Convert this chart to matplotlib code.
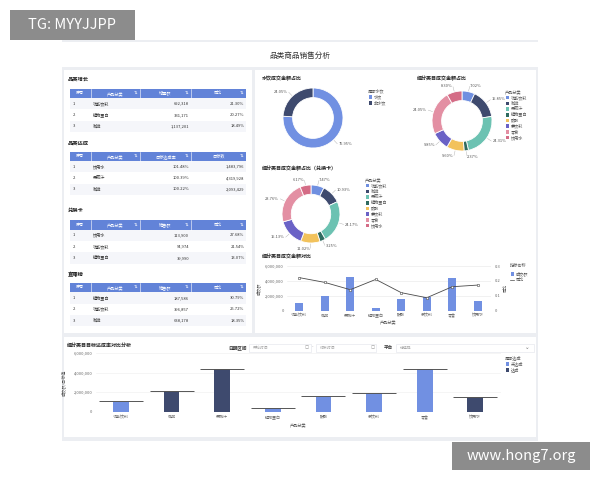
import numpy as np
import matplotlib
matplotlib.use("Agg")
import matplotlib.pyplot as plt
from matplotlib.patches import Rectangle

plt.rcParams['font.family'] = ['Noto Sans CJK SC', 'DejaVu Sans']

# ---------------- data ----------------
categories = ['功能饮料', '咖啡', '果蔬汁', '植物蛋白', '碳酸', '茶饮料', '零食', '饮用水']
cat_colors = ['#6f8fe0', '#3e4a6e', '#6cc2b2', '#2f6b60', '#f2c25c', '#6a62c6', '#e38fa3', '#d46c86']

water_labels = ['水饮', '非水饮']
water_share = [75.95, 24.05]
water_colors = ['#7190e2', '#3e4a6e']

share_all = [7.02, 15.85, 24.31, 2.37, 9.60, 9.85, 24.05, 8.30]
share_card = [7.47, 10.93, 24.17, 3.25, 11.02, 15.13, 23.76, 6.17]

sales = [1000000, 1950000, 4550000, 350000, 1550000, 1900000, 4450000, 1250000]
sales_yoy = [0.222, 0.190, 0.141, 0.210, 0.121, 0.087, 0.161, 0.172]

actual = [1020000, 2098034, 4336775, 350000, 1540000, 1910000, 4340000, 1505756]
target = [1090000, 2093429, 4319928, 410000, 1580000, 1960000, 4370000, 1483796]

growth_cats = ['功能饮料', '植物蛋白', '咖啡']
growth_inc = [692318, 331171, 1137201]
growth_yoy = [21.30, 20.27, 18.49]

achieve_cats = ['饮用水', '果蔬汁', '咖啡']
achieve_rate = [101.48, 100.39, 100.22]
achieve_target = [1483796, 4319928, 2093429]

card_cats = ['饮用水', '功能饮料', '植物蛋白']
card_sales = [113900, 94974, 39990]
card_yoy = [27.68, 21.54, 13.07]

live_cats = ['植物蛋白', '功能饮料', '咖啡']
live_sales = [187586, 396857, 638178]
live_yoy = [30.79, 25.72, 18.35]

W, H = 600, 480
fig = plt.figure(figsize=(6, 4.8), dpi=100)
fig.patch.set_facecolor('white')

bg = fig.add_axes([0, 0, 1, 1])
bg.set_xlim(0, W)
bg.set_ylim(H, 0)
bg.axis('off')


def px_axes(x, y, w, h):
    return fig.add_axes([x / W, 1 - (y + h) / H, w / W, h / H])


def rect(x, y, w, h, fc, ec='none', lw=0.5, z=0):
    bg.add_patch(Rectangle((x, y), w, h, facecolor=fc, edgecolor=ec, linewidth=lw, zorder=z))


# panel + cards
rect(62, 40, 476, 401, '#eceef2')
rect(62, 42, 476, 25, 'white')
rect(64, 70, 188, 263, 'white')
rect(255, 70, 281, 263, 'white')
rect(64, 337, 472, 100, 'white')
bg.text(300, 56, '品类商品销售分析', fontsize=5.5, ha='center', va='center', color='#333333')

# watermarks
rect(10, 10, 125, 30, '#8c8c8c', z=5)
bg.text(72, 25, 'TG: MYYJJPP', fontsize=10.5, color='white', ha='center', va='center', zorder=6)
rect(452, 442, 138, 28, '#8c8c8c', z=5)
bg.text(521, 456, 'www.hong7.org', fontsize=10.5, color='white', ha='center', va='center', zorder=6)

# ---------------- tables ----------------
col_x = [70, 90.7, 140, 190.7, 245.7]


def draw_table(title, ty, hy, headers, cats, v1, v2):
    bg.text(68, ty, title, fontsize=3.8, weight='bold', va='center', color='#222222')
    rect(col_x[0], hy, col_x[-1] - col_x[0], 9.6, '#6283d8')
    for i in range(1, 4):
        bg.plot([col_x[i], col_x[i]], [hy, hy + 9.6], color='white', lw=0.4)
    for i, h in enumerate(headers):
        cx = (col_x[i] + col_x[i + 1]) / 2
        bg.text(cx, hy + 4.8, h, fontsize=3.0, color='white', ha='center', va='center')
        if i > 0:
            bg.text(col_x[i + 1] - 4, hy + 4.8, '⇅', fontsize=3.2, color='white',
                    ha='center', va='center', family='DejaVu Sans')
    for r in range(3):
        cy = hy + 9.6 + 5.7 + r * 11.3
        rect(col_x[0], cy - 5.65, col_x[-1] - col_x[0], 11.3, '#f5f6fa' if r % 2 == 0 else 'white')
        bg.text(73, cy, str(r + 1), fontsize=3.0, va='center', color='#333333')
        bg.text(92.5, cy, cats[r], fontsize=3.0, va='center', color='#333333')
        bg.text(189, cy, v1[r], fontsize=3.0, va='center', ha='right', color='#333333')
        bg.text(244.5, cy, v2[r], fontsize=3.0, va='center', ha='right', color='#333333')


draw_table('品类增长', 79, 88.5, ['序号', '产品分类', '增量额', '同比'], growth_cats,
           [f'{v:,}' for v in growth_inc], [f'{v:.2f}%' for v in growth_yoy])
draw_table('品类达成', 142.7, 151.5, ['序号', '产品分类', '目标达成率', '目标数'], achieve_cats,
           [f'{v:.2f}%' for v in achieve_rate], [f'{v:,}' for v in achieve_target])
draw_table('兑换卡', 210.7, 220, ['序号', '产品分类', '销售额', '同比'], card_cats,
           [f'{v:,}' for v in card_sales], [f'{v:.2f}%' for v in card_yoy])
draw_table('直播榜', 274.3, 282.7, ['序号', '产品分类', '销售额', '同比'], live_cats,
           [f'{v:,}' for v in live_sales], [f'{v:.2f}%' for v in live_yoy])


# ---------------- donuts ----------------
def donut(cx, cy, r, values, colors, title, tx, ty):
    bg.text(tx, ty, title, fontsize=3.6, weight='bold', va='center', color='#222222')
    half = r * 1.9
    ax = px_axes(cx - half, cy - half, 2 * half, 2 * half)
    rad = r / half
    wedges, _ = ax.pie(values, colors=colors, radius=rad, startangle=90, counterclock=False,
                       wedgeprops=dict(width=rad * 0.32, edgecolor='white', linewidth=0.6))
    ax.set_xlim(-1, 1)
    ax.set_ylim(-1, 1)
    for w, v in zip(wedges, values):
        ang = np.deg2rad((w.theta1 + w.theta2) / 2)
        c, s = np.cos(ang), np.sin(ang)
        ax.plot([rad * 1.03 * c, rad * 1.18 * c], [rad * 1.03 * s, rad * 1.18 * s],
                color='#aaaaaa', lw=0.3)
        ax.text(rad * 1.23 * c, rad * 1.2 * s, f'{v:.2f}%', fontsize=2.9, color='#555555',
                ha='left' if c >= 0 else 'right', va='center')
    return ax


def legend_block(x, y, title, labels, colors, step):
    bg.text(x, y, title, fontsize=3.0, color='#555555', va='center')
    for i, (lab, col) in enumerate(zip(labels, colors)):
        yy = y + step * (i + 1)
        rect(x + 0.5, yy - 1.8, 3.6, 3.6, col)
        bg.text(x + 5.5, yy, lab, fontsize=3.0, color='#555555', va='center')


donut(313, 118, 30, water_share, water_colors, '水饮成交金额占比', 262, 79)
legend_block(368, 91, '是否水饮', water_labels, water_colors, 6)

donut(462, 121, 30, share_all, cat_colors, '细分类目成交金额占比', 417, 79)
legend_block(505, 92, '产品分类', categories, cat_colors, 5.7)

donut(311, 214, 29, share_card, cat_colors, '细分类目成交金额占比（兑换卡）', 262, 169)
legend_block(365, 180, '产品分类', categories, cat_colors, 5.7)

# ---------------- combo bar + line ----------------
bg.text(262, 257, '细分类目成交金额对比', fontsize=3.6, weight='bold', va='center', color='#222222')
x = np.arange(len(categories))
ax1 = px_axes(286.5, 266, 204, 44.7)
ax1.bar(x, sales, width=0.33, color='#7190e2', zorder=2)
ax1.set_xlim(-0.5, 7.5)
ax1.set_ylim(0, 6000000)
ax1.set_yticks([0, 2000000, 4000000, 6000000])
ax1.set_yticklabels(['0', '2,000,000', '4,000,000', '6,000,000'])
ax1.set_xticks(x)
ax1.set_xticklabels(categories)
ax1.grid(axis='y', color='#e6e6e6', lw=0.4)
ax1.tick_params(labelsize=2.9, length=0, pad=2, colors='#666666')
ax1.set_ylabel('成交额', fontsize=3.0, color='#555555', labelpad=3)
ax1.set_xlabel('产品分类', fontsize=3.0, color='#555555', labelpad=1)
for sp in ax1.spines.values():
    sp.set_visible(False)
ax1.patch.set_alpha(0)
ax2 = ax1.twinx()
ax2.plot(x, sales_yoy, color='#4a4a4a', lw=0.6, marker='o', markersize=1.8,
         markerfacecolor='white', markeredgecolor='#4a4a4a', markeredgewidth=0.4, zorder=3)
ax2.set_ylim(0, 0.3)
ax2.set_yticks([0, 0.1, 0.2, 0.3])
ax2.set_yticklabels(['0', '0.1', '0.2', '0.3'])
ax2.tick_params(labelsize=2.9, length=0, pad=3, colors='#666666')
ax2.set_ylabel('同比', fontsize=3.0, color='#555555', labelpad=2)
for sp in ax2.spines.values():
    sp.set_visible(False)
bg.text(510, 265.7, '指标名称', fontsize=3.0, color='#555555', va='center')
rect(510.5, 272.2, 3.6, 3.6, '#7190e2')
bg.text(516, 274, '成交额', fontsize=3.0, color='#555555', va='center')
bg.plot([510.3, 514.3], [280, 280], color='#4a4a4a', lw=0.5)
bg.text(516, 280, '同比', fontsize=3.0, color='#555555', va='center')

# ---------------- bottom: target vs actual ----------------
bg.text(67, 345, '细分类目目标达成率对比分析', fontsize=3.6, weight='bold', va='center', color='#222222')
bg.text(228, 347.7, '日期区间', fontsize=3.3, weight='bold', va='center', color='#333333')
rect(249, 343.5, 62, 8.5, 'white', '#e2e4ea', 0.4)
bg.text(253, 347.7, '开始时间', fontsize=2.8, color='#aaaaaa', va='center')
bg.text(306.5, 347.7, '▢', fontsize=3.2, color='#888888', va='center', ha='center', family='DejaVu Sans')
bg.text(312.7, 347.7, '-', fontsize=3.0, color='#888888', va='center', ha='center')
rect(316, 343.5, 60, 8.5, 'white', '#e2e4ea', 0.4)
bg.text(319.7, 347.7, '结束时间', fontsize=2.8, color='#aaaaaa', va='center')
bg.text(372.3, 347.7, '▢', fontsize=3.2, color='#888888', va='center', ha='center', family='DejaVu Sans')
bg.text(383.3, 347.7, '平台', fontsize=3.3, weight='bold', va='center', color='#333333')
rect(396, 343.5, 138, 8.5, 'white', '#e2e4ea', 0.4)
bg.text(400.3, 347.7, '请选择', fontsize=2.8, color='#aaaaaa', va='center')
bg.text(527, 347.2, '⌄', fontsize=4, color='#777777', va='center', ha='center', family='DejaVu Sans')

achieved = [a >= t for a, t in zip(actual, target)]
bar_cols = ['#3e4a6e' if ok else '#7190e2' for ok in achieved]
ax3 = px_axes(95.7, 353, 404.9, 58.7)
ax3.bar(x, actual, width=0.31, color=bar_cols, zorder=2)
ax3.hlines(target, x - 0.435, x + 0.435, color='#555555', lw=0.7, zorder=3)
ax3.set_xlim(-0.5, 7.5)
ax3.set_ylim(0, 6000000)
ax3.set_yticks([0, 2000000, 4000000, 6000000])
ax3.set_yticklabels(['0', '2,000,000', '4,000,000', '6,000,000'])
ax3.set_xticks(x)
ax3.set_xticklabels(categories)
ax3.grid(axis='y', color='#eeeeee', lw=0.4)
ax3.tick_params(labelsize=2.9, length=0, pad=2.5, colors='#666666')
ax3.set_ylabel('成交额/目标值', fontsize=3.0, color='#555555', labelpad=5)
ax3.set_xlabel('产品分类', fontsize=3.0, color='#555555', labelpad=1.5)
for sp in ax3.spines.values():
    sp.set_visible(False)
ax3.patch.set_alpha(0)
legend_block(505, 357.7, '是否达成', ['未达成', '达成'], ['#7190e2', '#3e4a6e'], 6)

fig.savefig('out.png', dpi=100)
